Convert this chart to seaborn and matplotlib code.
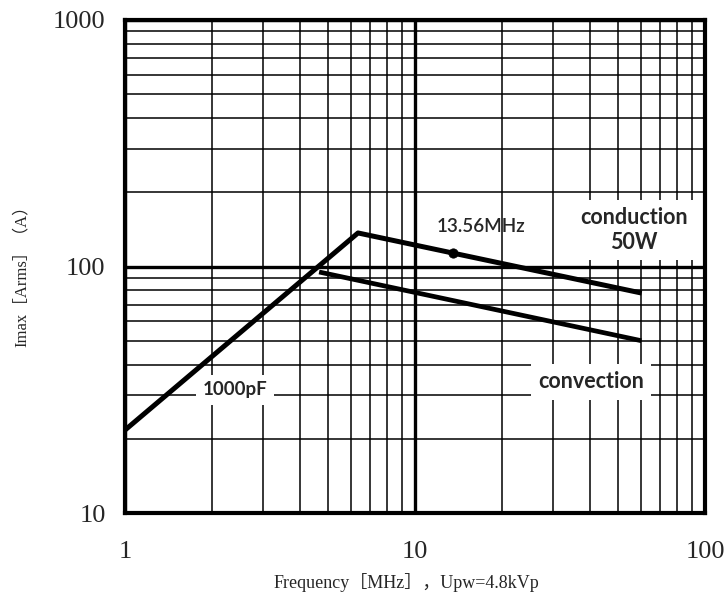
import matplotlib
matplotlib.use("Agg")
import matplotlib.pyplot as plt
import seaborn as sns
import pandas as pd
from matplotlib.ticker import FixedLocator, NullFormatter

# ---- data ----
conduction_freq = [1.0, 6.36, 60.5]
conduction_imax = [21.7, 136.8, 78.0]
convection_freq = [4.67, 60.3]
convection_imax = [95.0, 50.0]
marker_freq = [13.56]
marker_imax = [113.5]

x_ticks = [1, 10, 100]
x_tick_labels = ["1", "10", "100"]
y_ticks = [10, 100, 1000]
y_tick_labels = ["10", "100", "1000"]

xlabel = "Frequency［MHz］，Upw=4.8kVp"
ylabel = "Imax［Arms］（A）"

sns.set_style("white")
plt.rcParams['font.family'] = ['DejaVu Sans']

fig = plt.figure(figsize=(7.28, 5.96), dpi=100)
ax = fig.add_axes([125/728, 1-513/596, 580/728, 493/596])

cond_df = pd.DataFrame({"f": conduction_freq, "i": conduction_imax})
conv_df = pd.DataFrame({"f": convection_freq, "i": convection_imax})
mark_df = pd.DataFrame({"f": marker_freq, "i": marker_imax})

sns.lineplot(data=cond_df, x="f", y="i", ax=ax, color="black", linewidth=3.6,
             sort=False, estimator=None, zorder=5, solid_capstyle="butt")
sns.lineplot(data=conv_df, x="f", y="i", ax=ax, color="black", linewidth=3.4,
             sort=False, estimator=None, zorder=5, solid_capstyle="butt")
sns.scatterplot(data=mark_df, x="f", y="i", ax=ax, color="black", s=45,
                zorder=6, edgecolor="black")

ax.set_xscale("log")
ax.set_yscale("log")
ax.set_xlim(1, 100)
ax.set_ylim(10, 1000)

# grid
minor_x = [m * d for d in (1, 10) for m in range(2, 10)]
minor_y = [m * d for d in (10, 100) for m in range(2, 10)]
ax.xaxis.set_major_locator(FixedLocator(x_ticks))
ax.yaxis.set_major_locator(FixedLocator(y_ticks))
ax.xaxis.set_minor_locator(FixedLocator(minor_x))
ax.yaxis.set_minor_locator(FixedLocator(minor_y))
ax.xaxis.set_minor_formatter(NullFormatter())
ax.yaxis.set_minor_formatter(NullFormatter())
ax.grid(which="minor", color="black", linewidth=1.1)
ax.grid(which="major", color="black", linewidth=2.4)
ax.set_axisbelow(True)

ax.set_xticklabels(x_tick_labels)
ax.set_yticklabels(y_tick_labels)
ax.tick_params(which="both", length=0)
ax.tick_params(axis="x", pad=20)
ax.tick_params(axis="y", pad=14)
for lab in ax.get_xticklabels() + ax.get_yticklabels():
    lab.set_fontfamily(["Liberation Serif", "DejaVu Serif"])
    lab.set_fontsize(19)

for s in ax.spines.values():
    s.set_visible(True)
    s.set_color("black")
    s.set_linewidth(3.0)
    s.set_zorder(10)

lab_font = ["Liberation Serif", "Noto Sans CJK SC"]
ax.set_xlabel(xlabel, fontfamily=lab_font, fontsize=13)
ax.set_ylabel(ylabel, fontfamily=lab_font, fontsize=12)
ax.xaxis.set_label_coords((406-125)/580, (513-582)/493)
ax.yaxis.set_label_coords((22-125)/580, (513-272)/493)
ax.xaxis.label.set_va("center")
ax.yaxis.label.set_va("center")

ann_font = ["Lato", "DejaVu Sans"]
box = dict(facecolor="white", edgecolor="none", boxstyle="square,pad=0.35")
ax.text((481-125)/580, (513-226)/493, "13.56MHz", transform=ax.transAxes,
        ha="center", va="center", fontfamily=ann_font, fontsize=13.5,
        fontweight="semibold", zorder=7)
ax.text((634-125)/580, (513-230)/493, "conduction\n50W", transform=ax.transAxes,
        ha="center", va="center", fontfamily=ann_font, fontsize=15.5,
        fontweight="bold", zorder=7, linespacing=1.25,
        bbox=dict(facecolor="white", edgecolor="none", boxstyle="square,pad=0.3"))
ax.text((591-125)/580, (513-382)/493, "convection", transform=ax.transAxes,
        ha="center", va="center", fontfamily=ann_font, fontsize=15.5,
        fontweight="bold", zorder=7, bbox=box)
ax.text((235-125)/580, (513-390)/493, "1000pF", transform=ax.transAxes,
        ha="center", va="center", fontfamily=ann_font, fontsize=13.5,
        fontweight="bold", zorder=7, bbox=box)

fig.savefig("out.png", dpi=100, facecolor="white")
